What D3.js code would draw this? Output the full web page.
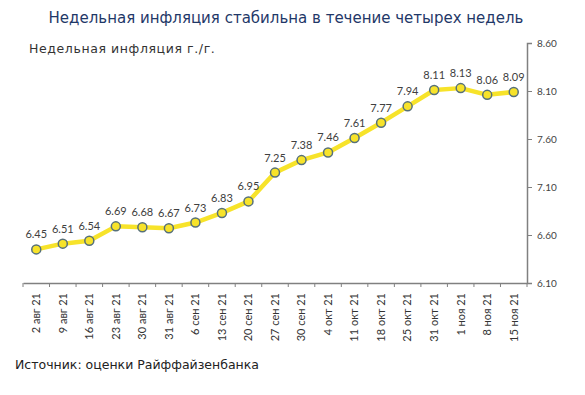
<!DOCTYPE html>
<html>
<head>
<meta charset="utf-8">
<script src="https://cdn.jsdelivr.net/npm/d3@7"></script>
<style>
  body { margin: 0; background: #fff; }
  svg { font-family: "Lato", "DejaVu Sans", sans-serif; }
</style>
</head>
<body>
<svg width="585" height="395"></svg>
<script>
// weekly inflation, y/y
const dates = ["2 авг 21", "9 авг 21", "16 авг 21", "23 авг 21", "30 авг 21", "31 авг 21",
  "6 сен 21", "13 сен 21", "20 сен 21", "27 сен 21", "30 сен 21", "4 окт 21", "11 окт 21",
  "18 окт 21", "25 окт 21", "31 окт 21", "1 ноя 21", "8 ноя 21", "15 ноя 21"];
const inflation = [6.45, 6.51, 6.54, 6.69, 6.68, 6.67, 6.73, 6.83, 6.95, 7.25, 7.38, 7.46,
  7.61, 7.77, 7.94, 8.11, 8.13, 8.06, 8.09];
const yTicks = [6.10, 6.60, 7.10, 7.60, 8.10, 8.60];

const svg = d3.select("svg");

const x = d3.scaleBand()
  .domain(dates)
  .range([23, 527]);

const y = d3.scaleLinear()
  .domain([6.10, 8.60])
  .range([283, 43]);

// title + subtitle (wide geometric face in the original, DejaVu is closest in width)
svg.append("text")
  .attr("x", 286).attr("y", 23)
  .attr("text-anchor", "middle")
  .attr("fill", "#1f3868")
  .style("font-family", "'DejaVu Sans', sans-serif")
  .style("font-size", "15px")
  .text("Недельная инфляция стабильна в течение четырех недель");

svg.append("text")
  .attr("x", 29).attr("y", 53)
  .attr("fill", "#333")
  .style("font-family", "'DejaVu Sans', sans-serif")
  .style("font-size", "12.5px")
  .style("letter-spacing", "0.6px")
  .text("Недельная инфляция г./г.");

// right axis
const yAxis = svg.append("g")
  .attr("transform", "translate(527,0)")
  .call(d3.axisRight(y).tickValues(yTicks).tickFormat(d3.format(".2f")).tickSize(5).tickPadding(5));
yAxis.select(".domain").attr("stroke", "#808080").attr("stroke-width", 1.5);
yAxis.selectAll(".tick line").attr("stroke", "#808080");
yAxis.selectAll("text").attr("fill", "#444").style("font-size", "10px")
  .style("font-family", "Lato, sans-serif");

// bottom axis
const xAxis = svg.append("g")
  .attr("transform", "translate(0,283)")
  .call(d3.axisBottom(x).tickSize(0).tickSizeOuter(0));
xAxis.select(".domain").attr("stroke", "#808080").attr("stroke-width", 1.5);
xAxis.selectAll("text")
  .attr("fill", "#333")
  .style("font-size", "11px")
  .style("font-family", "Lato, sans-serif")
  .attr("transform", "rotate(-90)")
  .attr("text-anchor", "end")
  .attr("x", -10).attr("y", 0)
  .attr("dy", "0.35em");

// tick marks at band boundaries
const edges = dates.map(d => x(d)).concat([x.range()[1]]);
svg.append("g").selectAll("line")
  .data(edges)
  .join("line")
  .attr("x1", d => d).attr("x2", d => d)
  .attr("y1", 283).attr("y2", 287)
  .attr("stroke", "#808080");

// line
const cx = d => x(d) + x.bandwidth() / 2;
const line = d3.line()
  .x((v, i) => cx(dates[i]))
  .y(v => y(v));

svg.append("path")
  .datum(inflation)
  .attr("d", line)
  .attr("fill", "none")
  .attr("stroke", "#f7e32a")
  .attr("stroke-width", 4.5)
  .attr("stroke-linejoin", "round");

svg.append("g").selectAll("circle")
  .data(inflation)
  .join("circle")
  .attr("cx", (v, i) => cx(dates[i]))
  .attr("cy", v => y(v))
  .attr("r", 4.5)
  .attr("fill", "#f7e32a")
  .attr("stroke", "#56707a")
  .attr("stroke-width", 1.5);

svg.append("g").selectAll("text")
  .data(inflation)
  .join("text")
  .attr("x", (v, i) => cx(dates[i]))
  .attr("y", v => y(v) - 11)
  .attr("text-anchor", "middle")
  .attr("fill", "#404040")
  .style("font-size", "11px")
  .text(d3.format(".2f"));

// source
svg.append("text")
  .attr("x", 15).attr("y", 369)
  .attr("fill", "#222")
  .style("font-family", "'DejaVu Sans', sans-serif")
  .style("font-size", "12.5px")
  .text("Источник: оценки Райффайзенбанка");
</script>
</body>
</html>
